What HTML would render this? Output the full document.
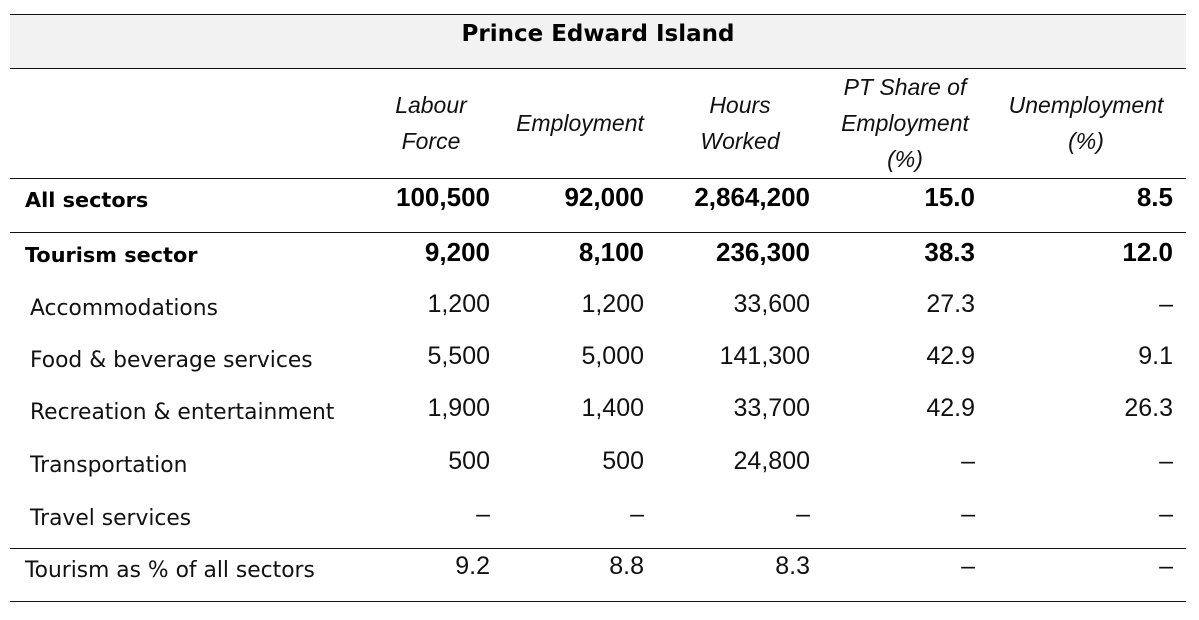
<!DOCTYPE html>
<html>
<head>
<meta charset="utf-8">
<style>
  html, body { margin:0; padding:0; background:#fff; }
  body { width:1199px; height:620px; position:relative; overflow:hidden; }
  .band { position:absolute; left:10px; width:1176px; top:14px; height:54px; background:#f2f2f2; }
  .hl { position:absolute; left:10px; width:1176px; height:1px; background:#111; }
  .title { position:absolute; left:10px; width:1176px; top:23px; text-align:center;
    font-family:"DejaVu Sans", sans-serif; font-weight:bold; font-size:23px; line-height:23px; color:#000; white-space:nowrap; }
  .hd { position:absolute; top:68px; height:110px; width:220px; display:flex; flex-direction:column; justify-content:center; align-items:center;
    font-family:"Liberation Sans", sans-serif; font-style:italic; font-size:23px; line-height:36px; color:#111; text-align:center; white-space:nowrap; }
  .lb { position:absolute; font-family:"DejaVu Sans", sans-serif; font-size:21.8px; line-height:21.8px; color:#111; white-space:nowrap; }
  .lb.b { font-weight:bold; font-size:20.8px; line-height:20.8px; color:#000; }
  .n { position:absolute; font-family:"Liberation Sans", sans-serif; font-size:25px; line-height:25px; color:#111; text-align:right; white-space:nowrap; }
  .n.b { font-weight:bold; font-size:26px; line-height:26px; color:#000; }
  .c1 { right:709px; } .c2 { right:555px; } .c3 { right:389px; } .c4 { right:224px; } .c5 { right:26px; }
</style>
</head>
<body>
  <div class="band"></div>
  <div class="hl" style="top:14px"></div>
  <div class="hl" style="top:68px"></div>
  <div class="hl" style="top:178px"></div>
  <div class="hl" style="top:232px"></div>
  <div class="hl" style="top:548px"></div>
  <div class="hl" style="top:601px"></div>

  <div class="title">Prince Edward Island</div>

  <div class="hd" style="left:321px"><div>Labour</div><div>Force</div></div>
  <div class="hd" style="left:470px"><div>Employment</div></div>
  <div class="hd" style="left:630px"><div>Hours</div><div>Worked</div></div>
  <div class="hd" style="left:795px"><div>PT Share of</div><div>Employment</div><div>(%)</div></div>
  <div class="hd" style="left:976px"><div>Unemployment</div><div>(%)</div></div>

  <!-- Row 1 -->
  <div class="lb b" style="left:25px; top:190.4px">All sectors</div>
  <div class="n b c1" style="top:184px">100,500</div>
  <div class="n b c2" style="top:184px">92,000</div>
  <div class="n b c3" style="top:184px">2,864,200</div>
  <div class="n b c4" style="top:184px">15.0</div>
  <div class="n b c5" style="top:184px">8.5</div>

  <!-- Row 2 -->
  <div class="lb b" style="left:25px; top:245.4px">Tourism sector</div>
  <div class="n b c1" style="top:238.5px">9,200</div>
  <div class="n b c2" style="top:238.5px">8,100</div>
  <div class="n b c3" style="top:238.5px">236,300</div>
  <div class="n b c4" style="top:238.5px">38.3</div>
  <div class="n b c5" style="top:238.5px">12.0</div>

  <!-- Row 3 -->
  <div class="lb" style="left:30px; top:297.6px">Accommodations</div>
  <div class="n c1" style="top:292.3px">1,200</div>
  <div class="n c2" style="top:292.3px">1,200</div>
  <div class="n c3" style="top:292.3px">33,600</div>
  <div class="n c4" style="top:292.3px">27.3</div>
  <div class="n c5" style="top:292.3px">–</div>

  <!-- Row 4 -->
  <div class="lb" style="left:30px; top:349.6px">Food &amp; beverage services</div>
  <div class="n c1" style="top:344.3px">5,500</div>
  <div class="n c2" style="top:344.3px">5,000</div>
  <div class="n c3" style="top:344.3px">141,300</div>
  <div class="n c4" style="top:344.3px">42.9</div>
  <div class="n c5" style="top:344.3px">9.1</div>

  <!-- Row 5 -->
  <div class="lb" style="left:30px; top:401.6px">Recreation &amp; entertainment</div>
  <div class="n c1" style="top:396.3px">1,900</div>
  <div class="n c2" style="top:396.3px">1,400</div>
  <div class="n c3" style="top:396.3px">33,700</div>
  <div class="n c4" style="top:396.3px">42.9</div>
  <div class="n c5" style="top:396.3px">26.3</div>

  <!-- Row 6 -->
  <div class="lb" style="left:30px; top:454.6px">Transportation</div>
  <div class="n c1" style="top:449.3px">500</div>
  <div class="n c2" style="top:449.3px">500</div>
  <div class="n c3" style="top:449.3px">24,800</div>
  <div class="n c4" style="top:449.3px">–</div>
  <div class="n c5" style="top:449.3px">–</div>

  <!-- Row 7 -->
  <div class="lb" style="left:30px; top:507.6px">Travel services</div>
  <div class="n c1" style="top:502.3px">–</div>
  <div class="n c2" style="top:502.3px">–</div>
  <div class="n c3" style="top:502.3px">–</div>
  <div class="n c4" style="top:502.3px">–</div>
  <div class="n c5" style="top:502.3px">–</div>

  <!-- Row 8 -->
  <div class="lb" style="left:25px; top:559.6px">Tourism as % of all sectors</div>
  <div class="n c1" style="top:553.8px">9.2</div>
  <div class="n c2" style="top:553.8px">8.8</div>
  <div class="n c3" style="top:553.8px">8.3</div>
  <div class="n c4" style="top:553.8px">–</div>
  <div class="n c5" style="top:553.8px">–</div>
</body>
</html>
